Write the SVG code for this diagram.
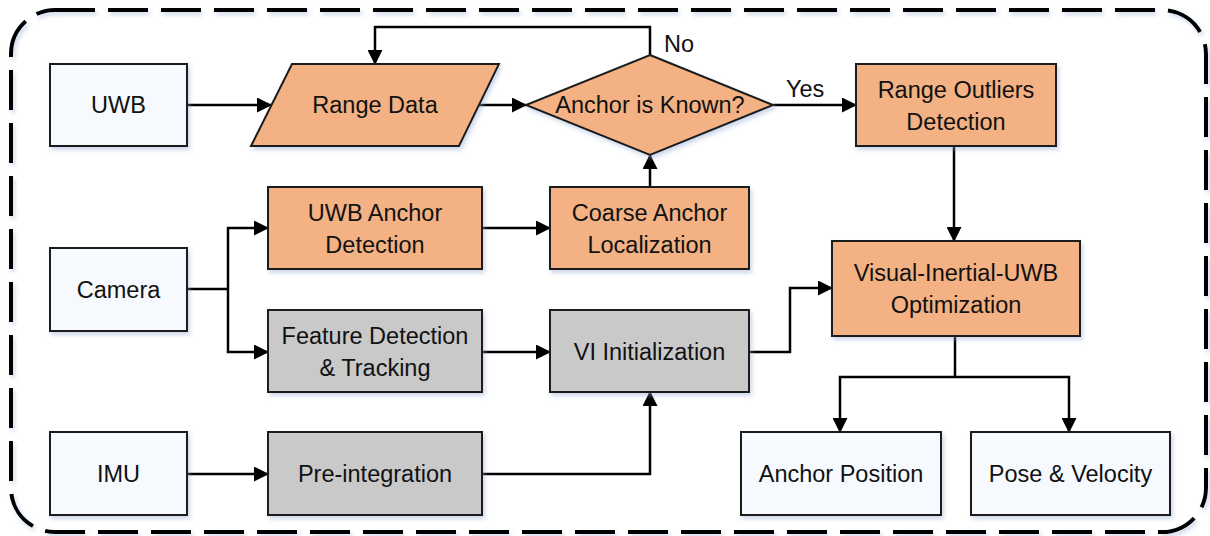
<svg xmlns="http://www.w3.org/2000/svg" width="1210" height="536" viewBox="0 0 1210 536">
  <defs>
    <style>
      .box { stroke: #1a1a1a; stroke-width: 2; filter: url(#shadow); }
      .io { fill: #f6fafe; }
      .uwb { fill: #f4b183; }
      .vi { fill: #c9c9c9; }
      .lbl { font-family: "Liberation Sans", Arial, sans-serif; font-size: 23.5px; fill: #111; text-anchor: middle; }
      .tag { font-family: "Liberation Sans", Arial, sans-serif; font-size: 23.5px; fill: #111; }
      .wire { fill: none; stroke: #000; stroke-width: 2.5; }
      .arrow { marker-end: url(#head); }
    </style>
    <filter id="shadow" x="-10%" y="-10%" width="125%" height="130%">
      <feDropShadow dx="2" dy="3" stdDeviation="2" flood-color="#8fa8d0" flood-opacity="0.45"/>
    </filter>
    <marker id="head" markerUnits="userSpaceOnUse" markerWidth="15" markerHeight="15" refX="14" refY="7.5" orient="auto">
      <path d="M0,0 L15,7.5 L0,15 Z" fill="#000"/>
    </marker>
  </defs>

  <!-- system boundary -->
  <rect x="11" y="10" width="1195" height="522" rx="44" ry="44" fill="none" stroke="#000" stroke-width="4" stroke-dasharray="40 13" filter="url(#shadow)"/>

  <!-- connectors -->
  <g id="connectors">
    <path class="wire arrow" d="M187,105 H271"/>
    <path class="wire arrow" d="M479,105 H526"/>
    <path class="wire arrow" d="M650,55 V27 H375 V64"/>
    <path class="wire arrow" d="M773,105 H856"/>
    <path class="wire arrow" d="M954,146 V241"/>
    <path class="wire" d="M187,289 H228"/>
    <path class="wire arrow" d="M228,289 V228 H268"/>
    <path class="wire arrow" d="M228,289 V352 H268"/>
    <path class="wire arrow" d="M482,228 H550"/>
    <path class="wire arrow" d="M650,187 V155"/>
    <path class="wire arrow" d="M482,352 H550"/>
    <path class="wire arrow" d="M749,352 H790 V288 H832"/>
    <path class="wire arrow" d="M187,474 H268"/>
    <path class="wire arrow" d="M482,474 H650 V392"/>
    <path class="wire" d="M955,336 V377"/>
    <path class="wire arrow" d="M955,377 H840 V432"/>
    <path class="wire arrow" d="M955,377 H1069 V432"/>
    <text class="tag" x="664" y="52">No</text>
    <text class="tag" x="786" y="97">Yes</text>
  </g>

  <g id="uwb">
    <rect class="box io" x="50" y="64" width="137" height="82"/>
    <text class="lbl" x="118.5" y="113">UWB</text>
  </g>

  <g id="range-data">
    <polygon class="box uwb" points="292,64 499,64 459,146 251,146"/>
    <text class="lbl" x="375" y="113">Range Data</text>
  </g>

  <g id="anchor-known">
    <polygon class="box uwb" points="650,55 773,105 650,155 526,105"/>
    <text class="lbl" x="650" y="113">Anchor is Known?</text>
  </g>

  <g id="range-outliers">
    <rect class="box uwb" x="856" y="64" width="200" height="82"/>
    <text class="lbl" x="956" y="98">Range Outliers</text>
    <text class="lbl" x="956" y="130">Detection</text>
  </g>

  <g id="camera">
    <rect class="box io" x="50" y="248" width="137" height="83"/>
    <text class="lbl" x="118.5" y="298">Camera</text>
  </g>

  <g id="anchor-detection">
    <rect class="box uwb" x="268" y="187" width="214" height="82"/>
    <text class="lbl" x="375" y="221">UWB Anchor</text>
    <text class="lbl" x="375" y="253">Detection</text>
  </g>

  <g id="coarse-localization">
    <rect class="box uwb" x="550" y="187" width="199" height="82"/>
    <text class="lbl" x="649.5" y="221">Coarse Anchor</text>
    <text class="lbl" x="649.5" y="253">Localization</text>
  </g>

  <g id="feature-tracking">
    <rect class="box vi" x="268" y="310" width="214" height="82"/>
    <text class="lbl" x="375" y="344">Feature Detection</text>
    <text class="lbl" x="375" y="376">&amp; Tracking</text>
  </g>

  <g id="vi-init">
    <rect class="box vi" x="550" y="310" width="199" height="82"/>
    <text class="lbl" x="649.5" y="360">VI Initialization</text>
  </g>

  <g id="viu-optimization">
    <rect class="box uwb" x="832" y="241" width="248" height="95"/>
    <text class="lbl" x="956" y="281">Visual-Inertial-UWB</text>
    <text class="lbl" x="956" y="313">Optimization</text>
  </g>

  <g id="imu">
    <rect class="box io" x="50" y="432" width="137" height="83"/>
    <text class="lbl" x="118.5" y="482">IMU</text>
  </g>

  <g id="preintegration">
    <rect class="box vi" x="268" y="432" width="214" height="83"/>
    <text class="lbl" x="375" y="482">Pre-integration</text>
  </g>

  <g id="anchor-position">
    <rect class="box io" x="741" y="432" width="200" height="83"/>
    <text class="lbl" x="841" y="482">Anchor Position</text>
  </g>

  <g id="pose-velocity">
    <rect class="box io" x="971" y="432" width="199" height="83"/>
    <text class="lbl" x="1070.5" y="482">Pose &amp; Velocity</text>
  </g>
</svg>
